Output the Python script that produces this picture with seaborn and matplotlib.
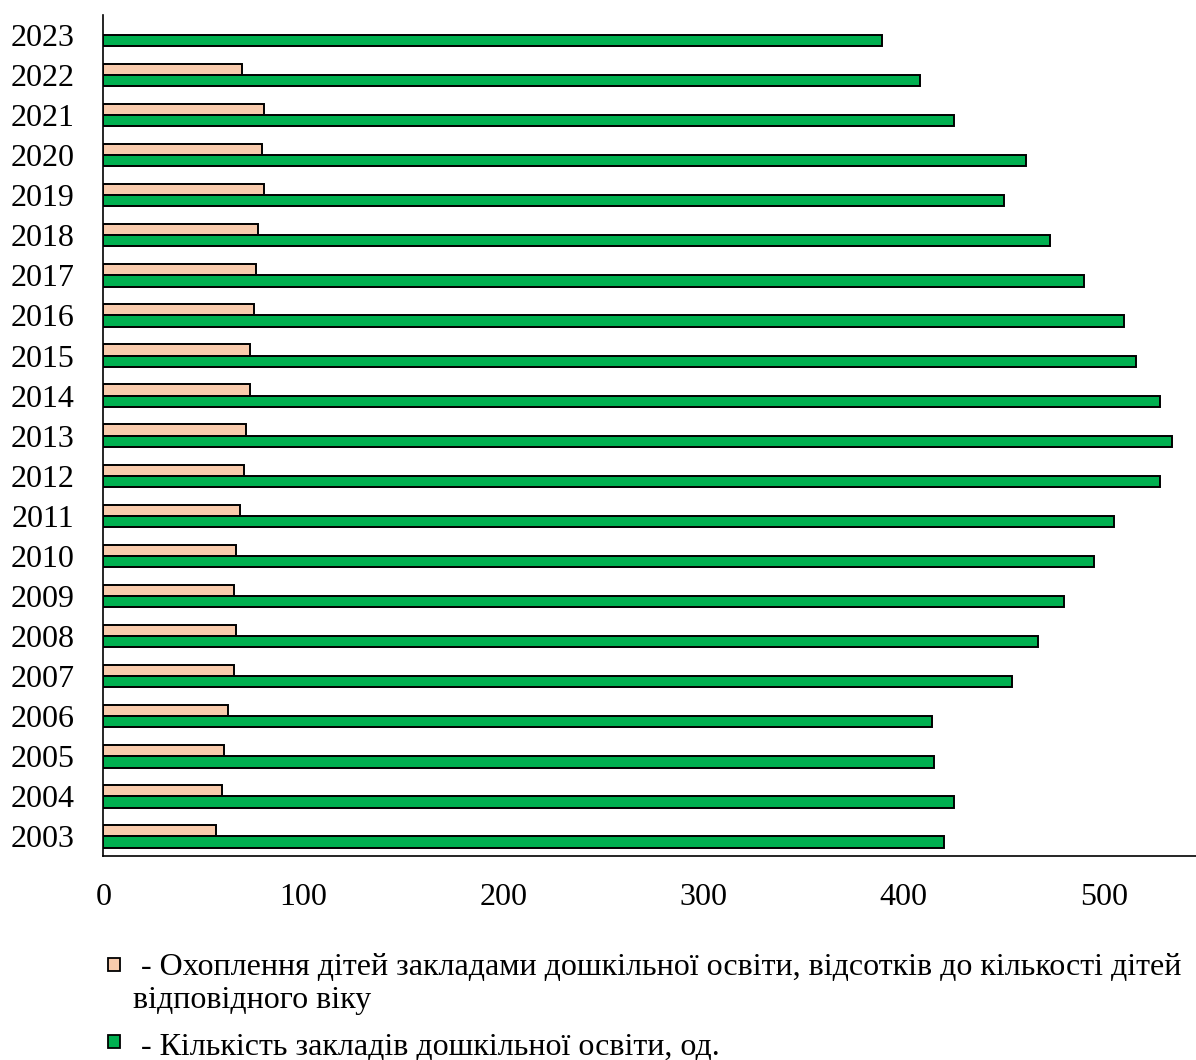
import numpy as np
import pandas as pd
import matplotlib
matplotlib.use("Agg")
import matplotlib.pyplot as plt
from matplotlib.patches import Rectangle
import seaborn as sns

years = [2023, 2022, 2021, 2020, 2019, 2018, 2017, 2016, 2015, 2014, 2013,
         2012, 2011, 2010, 2009, 2008, 2007, 2006, 2005, 2004, 2003]
coverage = [np.nan, 69, 80, 79, 80, 77, 76, 75, 73, 73, 71,
            70, 68, 66, 65, 66, 65, 62, 60, 59, 56]
institutions = [389, 408, 425, 461, 450, 473, 490, 510, 516, 528, 534,
                528, 505, 495, 480, 467, 454, 414, 415, 425, 420]
x_ticks = [0, 100, 200, 300, 400, 500]

label_cov_1 = " - Охоплення дітей закладами дошкільної освіти, відсотків до кількості дітей"
label_cov_2 = "відповідного віку"
label_cnt = " - Кількість закладів дошкільної освіти, од."
series_names = ["coverage", "count"]
colors = {"coverage": "#F8CBAD", "count": "#00B050"}

df = pd.DataFrame({
    "year": [str(y) for y in years] * 2,
    "value": coverage + institutions,
    "series": ["coverage"] * len(years) + ["count"] * len(years),
})

sns.set_theme(style="white")
plt.rcParams["font.family"] = ["Liberation Serif", "DejaVu Serif"]

fig = plt.figure(figsize=(11.96, 10.6), dpi=100)
ax = fig.add_axes([0.0865, 0.192, 0.9135, 0.794])

sns.barplot(data=df, y="year", x="value", hue="series", orient="h",
            order=[str(y) for y in years], hue_order=series_names,
            palette=colors, saturation=1, width=0.56, edgecolor="black",
            linewidth=1.4, legend=False, ax=ax)

ax.set_xlim(0, 546)
ax.set_ylim(len(years) - 0.5, -0.5)
ax.set_xticks(x_ticks)
ax.set_xticklabels([str(t) for t in x_ticks])
ax.set_xlabel("")
ax.set_ylabel("")
for s in ["top", "right"]:
    ax.spines[s].set_visible(False)
for s in ["left", "bottom"]:
    ax.spines[s].set_color("black")
    ax.spines[s].set_linewidth(1.2)
ax.tick_params(axis="x", direction="in", length=6, width=1.2, color="black",
               pad=19, labelsize=23, labelcolor="black")
ax.tick_params(axis="y", length=0, pad=21, labelsize=23, labelcolor="black")

# legend drawn manually
W, H = 1196, 1060
def fx(px):
    return px / W
def fy(py):
    return 1 - py / H

sq = 12
fs = 23
# entry 1
fig.patches.append(Rectangle((fx(108), fy(971)), sq / W, (sq + 1) / H,
                             transform=fig.transFigure, facecolor=colors["coverage"],
                             edgecolor="black", linewidth=1.3))
fig.text(fx(133), fy(975), label_cov_1, ha="left", va="baseline", fontsize=fs, color="black")
fig.text(fx(133), fy(1008), label_cov_2, ha="left", va="baseline", fontsize=fs, color="black")
# entry 2
fig.patches.append(Rectangle((fx(108), fy(1048)), sq / W, (sq + 1) / H,
                             transform=fig.transFigure, facecolor=colors["count"],
                             edgecolor="black", linewidth=1.3))
fig.text(fx(133), fy(1055), label_cnt, ha="left", va="baseline", fontsize=fs, color="black")

fig.savefig("out.png", dpi=100)
